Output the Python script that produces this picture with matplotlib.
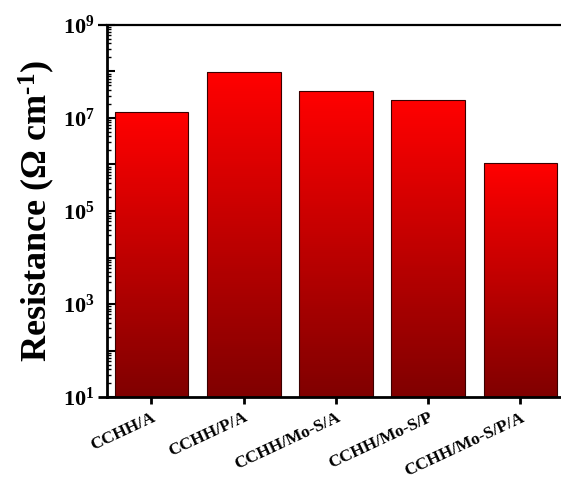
import matplotlib
matplotlib.use('Agg')
import matplotlib.pyplot as plt
from matplotlib import ticker
from matplotlib import transforms
import numpy as np

plt.rcParams['font.family'] = 'Liberation Serif'
plt.rcParams['font.weight'] = 'bold'
plt.rcParams['mathtext.fontset'] = 'custom'
plt.rcParams['mathtext.rm'] = 'Liberation Serif:bold'
plt.rcParams['mathtext.it'] = 'Liberation Serif:bold'
plt.rcParams['mathtext.bf'] = 'Liberation Serif:bold'
plt.rcParams['mathtext.default'] = 'bf'

samples = ['CCHH/A', 'CCHH/P/A', 'CCHH/Mo-S/A', 'CCHH/Mo-S/P', 'CCHH/Mo-S/P/A']
resistance = [1.35e7, 9.8e7, 3.8e7, 2.4e7, 1.07e6]

y_min, y_max = 1e1, 1e9
n_slices = 150
top_rgb = np.array([1.0, 0.0, 0.0])
bottom_rgb = np.array([0.50, 0.0, 0.0])

fig = plt.figure(figsize=(5.61, 4.79), dpi=100)
ax = fig.add_axes([0.191, 0.171, 0.809, 0.777])
ax.set_yscale('log')

x = np.arange(1, len(samples) + 1)
width = 0.8

# vertical red gradient inside each bar, dark at the base, bright at the top
for xi, val in zip(x, resistance):
    edges = np.logspace(np.log10(y_min), np.log10(val), n_slices + 1)
    frac = np.linspace(0, 1, n_slices)
    cols = bottom_rgb + (top_rgb - bottom_rgb) * frac[:, None]
    ax.bar([xi] * n_slices, edges[1:] - edges[:-1], bottom=edges[:-1],
           width=width, color=cols, linewidth=0, antialiased=False)
ax.bar(x, np.array(resistance) - y_min, bottom=y_min, width=width,
       facecolor='none', edgecolor='#3a0000', linewidth=0.8)

ax.set_ylim(y_min, y_max)
ax.set_xlim(0.52, 5.44)

ax.yaxis.set_major_locator(ticker.LogLocator(base=10, numticks=20))
ax.yaxis.set_minor_locator(ticker.LogLocator(base=10, subs=np.arange(2, 10), numticks=20))

def odd_decades(v, pos):
    e = int(round(np.log10(v)))
    return r'$\mathbf{10^{%d}}$' % e if e % 2 == 1 else ''

ax.yaxis.set_major_formatter(ticker.FuncFormatter(odd_decades))
ax.yaxis.set_minor_formatter(ticker.NullFormatter())

ax.set_xticks(x)
ax.set_xticklabels(samples, rotation=25, ha='right', rotation_mode='anchor',
                   fontsize=12.5, fontweight='bold')
shift = transforms.ScaledTranslation(8 / 100, 0, fig.dpi_scale_trans)
for lbl in ax.get_xticklabels():
    lbl.set_transform(lbl.get_transform() + shift)

ax.tick_params(axis='y', which='major', direction='in', length=6, width=1.5,
               labelsize=16, pad=9)
ax.tick_params(axis='y', which='minor', direction='in', length=3, width=1.0)
ax.tick_params(axis='x', which='major', direction='out', length=5, width=2,
               pad=4)

ax.spines['right'].set_visible(False)
ax.spines['left'].set_linewidth(2)
ax.spines['bottom'].set_linewidth(2)
ax.spines['top'].set_linewidth(1.6)

# short stubs of the top and bottom frame lines running left of the y axis
for yy, lw in ((0, 2), (1, 1.6)):
    ax.plot([-0.02, 0], [yy, yy], transform=ax.transAxes, color='k',
            lw=lw, clip_on=False, solid_capstyle='butt')

ax.set_ylabel(r'Resistance ($\Omega$ cm$^{\text{-1}}$)', fontsize=26,
              fontweight='bold', labelpad=4)

fig.savefig('out.png', dpi=100)
